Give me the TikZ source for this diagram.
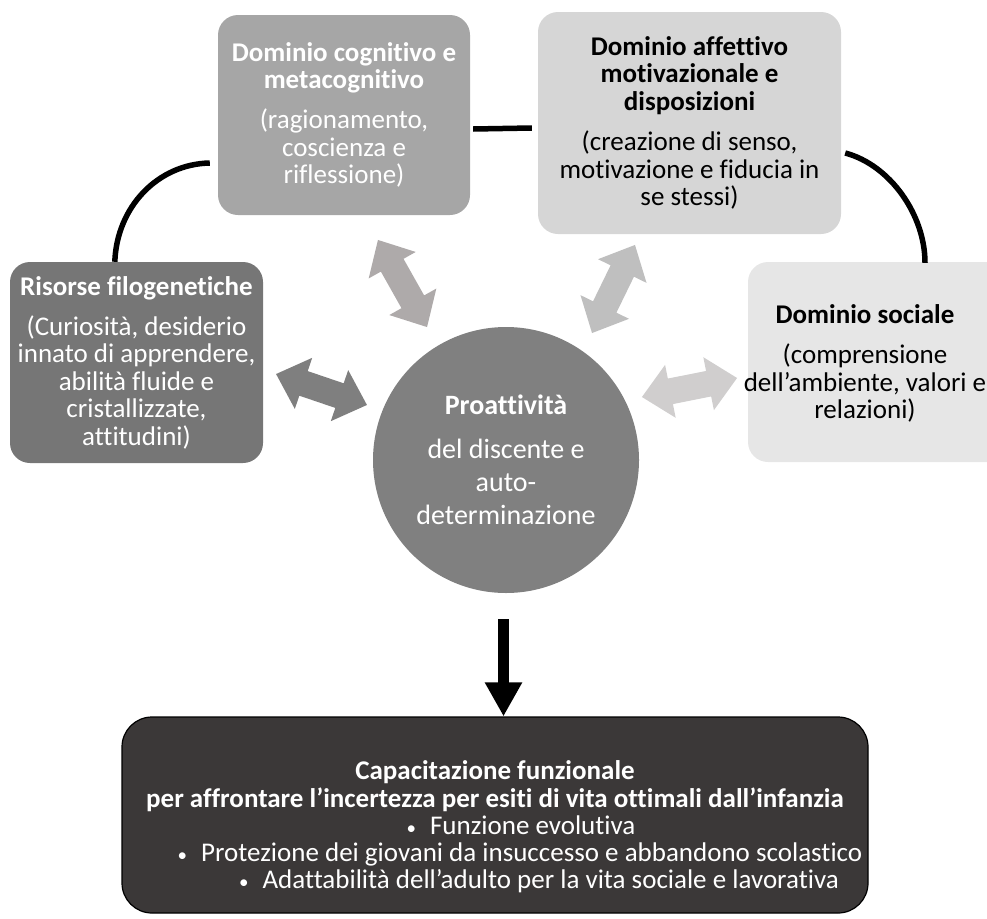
\documentclass[tikz,border=0pt]{standalone}
\usepackage{fontspec}
\setmainfont{Carlito}[Ligatures=NoCommon]
\usetikzlibrary{arrows.meta,calc}
\definecolor{cRis}{HTML}{767676}
\definecolor{cCog}{HTML}{A6A6A6}
\definecolor{cAff}{HTML}{D6D6D6}
\definecolor{cSoc}{HTML}{E6E6E6}
\definecolor{cCirc}{HTML}{808080}
\definecolor{cBot}{HTML}{3B3838}
\definecolor{cArA}{HTML}{AEAAAA}
\definecolor{cArB}{HTML}{7F7F7F}
\definecolor{cArC}{HTML}{BFBFBF}
\definecolor{cArD}{HTML}{D0CECE}
\newcommand\dblarr[5]{%
 \fill[#5, shift={(#1,#2)}, rotate=#3] ({-#4/2},0) -- ({-#4/2+29},-27) -- ({-#4/2+29},-13) -- ({#4/2-29},-13) -- ({#4/2-29},-27) -- ({#4/2},0) -- ({#4/2-29},27) -- ({#4/2-29},13) -- ({-#4/2+29},13) -- ({-#4/2+29},27) -- cycle;}
\newcommand\bul{{\fontsize{19}{19}\selectfont•}\hspace{14pt}}
\begin{document}
\begin{tikzpicture}[x=1pt,y=-1pt,
  box/.style={rounded corners=20pt, inner sep=0pt, align=center, font=\fontsize{27}{27.5}\selectfont},
  bt/.style={align=center, font=\fontsize{27}{27.5}\selectfont, inner sep=0pt},
  bl/.style={anchor=base, font=\fontsize{27}{27.5}\selectfont, inner sep=0pt, text=white},
  link/.style={line width=5.5pt, line cap=butt}]
\useasboundingbox (0,0) rectangle (987,918);
\node[box, fill=cRis, text=white, minimum width=253pt, minimum height=201pt] (ris) at (136.5,362.5)
  {\textbf{Risorse filogenetiche}\\[12.5pt](Curiosità, desiderio\\innato di apprendere,\\abilità fluide e\\cristallizzate,\\attitudini)};
\node[box, fill=cCog, text=white, minimum width=252pt, minimum height=200pt] (cog) at (344,115)
  {\textbf{Dominio cognitivo e}\\\textbf{metacognitivo}\\[12.5pt](ragionamento,\\coscienza e\\riflessione)};
\node[box, fill=cAff, text=black, minimum width=303pt, minimum height=222pt] (aff) at (689.5,123)
  {\textbf{Dominio affettivo}\\\textbf{motivazionale e}\\\textbf{disposizioni}\\[13pt](creazione di senso,\\motivazione e fiducia in\\se stessi)};
\node[box, fill=cSoc, minimum width=262pt, minimum height=200pt] (soc) at (879,362) {};
\node[bt, text=black] (soct) at (865,363.5)
  {\textbf{Dominio sociale}\\[13pt](comprensione\\dell’ambiente, valori e\\relazioni)};
\node[circle, fill=cCirc, minimum size=266pt, inner sep=0pt, text=white, align=center,
  font=\fontsize{28}{33}\selectfont] (pro) at (506,460)
  {\textbf{Proattività}\\[11pt]del discente e\\auto-\\determinazione};
\node[draw=black, line width=1.2pt, fill=cBot, rounded corners=30pt, minimum width=746pt, minimum height=196pt] (bot) at (495,815) {};
\node[bt, text=white] (bott) at (495,786)
  {\textbf{Capacitazione funzionale}\\\textbf{per affrontare l’incertezza per esiti di vita ottimali dall’infanzia}};
\node[bl] (b1) at (521,834) {\bul Funzione evolutiva};
\node[bl] (b2) at (520,861) {\bul Protezione dei giovani da insuccesso e abbandono scolastico};
\node[bl] (b3) at (539,888) {\bul Adattabilità dell’adulto per la vita sociale e lavorativa};
\dblarr{402.5}{283.5}{-60.6}{100}{cArA}
\dblarr{321.5}{389.5}{-18.8}{96}{cArB}
\dblarr{613.5}{289}{64}{98}{cArC}
\dblarr{689.5}{387.5}{11.3}{97}{cArD}
\draw[link] ($(ris.north west)+(105,0)$) .. controls +(2,-55) and +(-52,1) .. ($(cog.west)+(-8,48)$);
\draw[link] ($(cog.east)+(3,14)$) -- ($(aff.west)+(-6,5)$);
\draw[link] ($(aff.east)+(4,30)$) .. controls +(45,12) and +(0,-48) .. ($(soc.north)+(46,1)$);
\coordinate (dtop) at ($(pro.south)+(-2.5,26)$);
\draw[line width=11pt, -{Triangle[width=35pt,length=34pt]}] (dtop) -- (dtop |- bot.north);
\end{tikzpicture}
\end{document}
